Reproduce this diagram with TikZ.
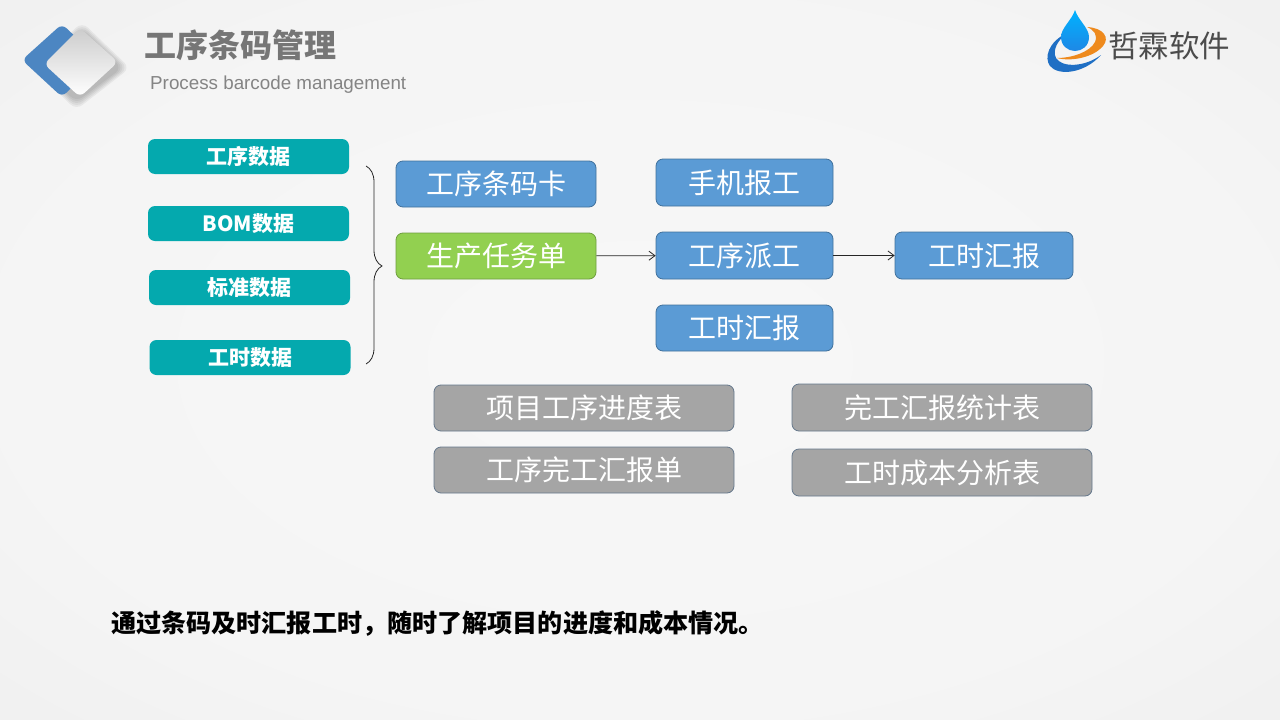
\documentclass[tikz,border=0pt]{standalone}
\usepackage{fontspec}
\setmainfont{Noto Sans CJK SC}
\newfontfamily\latinfont{Liberation Sans}
\usetikzlibrary{arrows.meta,decorations.pathreplacing}
\definecolor{cyanfill}{HTML}{04A9AE}
\definecolor{bluefill}{HTML}{5B9BD5}
\definecolor{blueedge}{HTML}{41719C}
\definecolor{greenfill}{HTML}{92D050}
\definecolor{greenedge}{HTML}{6F9E3F}
\definecolor{greyfill}{HTML}{A5A5A5}
\definecolor{greyedge}{HTML}{66788C}
\definecolor{titlegrey}{HTML}{767676}
\definecolor{iconblue}{HTML}{4C86C2}
\definecolor{dropblue}{HTML}{1E88E5}
\definecolor{swooshblue}{HTML}{1F6FC4}
\definecolor{swooshorange}{HTML}{EE8A1D}
\pgfdeclareradialshading{slideback}{\pgfpoint{0bp}{0bp}}{%
	color(0bp)=(white!97!black);
	color(25bp)=(white!96!black);
	color(50bp)=(white!92!black);
	color(71bp)=(white!83!black);
	color(100bp)=(white!83!black)}
\tikzset{
	box/.style={rounded corners=7pt,align=center,text=white,inner sep=0pt},
	cyanbox/.style={box,fill=cyanfill,minimum width=201pt,minimum height=35pt,font=\bfseries\fontsize{21pt}{21pt}\selectfont},
	bluebox/.style={box,draw=blueedge,fill=bluefill,line width=0.8pt,font=\fontsize{28pt}{28pt}\selectfont},
	greenbox/.style={bluebox,draw=greenedge,fill=greenfill,minimum width=200pt,minimum height=46pt},
	greybox/.style={bluebox,draw=greyedge,fill=greyfill,minimum width=300pt,minimum height=46pt},
	link/.style={black!85,line width=0.8pt,-{Straight Barb[length=6pt,width=9pt]}},
}
\begin{document}
\begin{tikzpicture}[x=1pt,y=-1pt]
\useasboundingbox (0,0) rectangle (1280,720);
\shade[shading=slideback] (0,0) rectangle (1280,720);
% corner icon
\foreach \d in {10,8,6,4,2}
	\fill[black,opacity=.05,rounded corners=8pt] (76,100+\d) -- (44-\d,68) -- (82,32-\d) -- (120+\d,68) -- cycle;
\fill[iconblue,rounded corners=6pt] (22,60) -- (62,24) -- (100,60) -- (62,97) -- cycle;
\shade[top color=white!80!black,bottom color=white,rounded corners=6pt] (44,64) -- (80,28) -- (118,62) -- (80,97) -- cycle;
% title
\path (144,45) node[anchor=west,inner sep=0pt,text=titlegrey,font=\bfseries\fontsize{32pt}{32pt}\selectfont] (title) {工序条码管理}
		(150,85) node[anchor=west,inner sep=0pt,text=titlegrey!90!white,font=\latinfont\fontsize{18.8pt}{18.8pt}\selectfont] (subtitle) {Process barcode management}
		(1108,46) node[anchor=west,text=black!70,inner sep=0pt,font=\fontsize{30.5pt}{30.5pt}\selectfont] (brand) {哲霖软件}
		;
% logo
\fill[swooshblue] (1067,33) .. controls (1048,42) and (1044,58) .. (1050,66) .. controls (1058,76) and (1084,74) .. (1101,55) .. controls (1085,67) and (1062,68) .. (1056,58) .. controls (1052,50) and (1058,40) .. (1067,33) -- cycle;
\fill[swooshorange] (1087,27) .. controls (1104,28) and (1110,38) .. (1103,46) .. controls (1094,57) and (1072,62) .. (1057,58) .. controls (1072,58) and (1090,52) .. (1095,42) .. controls (1098,35) and (1094,30) .. (1087,27) -- cycle;
\shade[top color=cyan!70!blue,bottom color=dropblue] (1075,10) .. controls (1078,20) and (1089,28) .. (1089,37) .. controls (1089,46) and (1082,51) .. (1075,51) .. controls (1068,51) and (1061,46) .. (1061,37) .. controls (1061,28) and (1072,20) .. (1075,10) -- cycle;
% boxes
\path (248.5,156.5) node[cyanbox] (procdata) {工序数据}
		(248.5,223.5) node[cyanbox] (bomdata) {BOM数据}
		(249.5,287.5) node[cyanbox] (stddata) {标准数据}
		(250,357.5) node[cyanbox] (hourdata) {工时数据}
		(496,184) node[bluebox,minimum width=200pt,minimum height=46pt] (card) {工序条码卡}
		(496,256) node[greenbox] (task) {生产任务单}
		(744.5,182.5) node[bluebox,minimum width=177pt,minimum height=47pt] (phone) {手机报工}
		(744.5,255.5) node[bluebox,minimum width=177pt,minimum height=47pt] (dispatch) {工序派工}
		(744.5,328) node[bluebox,minimum width=177pt,minimum height=46pt] (hours) {工时汇报}
		(984,255.5) node[bluebox,minimum width=178pt,minimum height=47pt] (report) {工时汇报}
		(584,408) node[greybox] (progress) {项目工序进度表}
		(584,470) node[greybox] (finish) {工序完工汇报单}
		(942,407.5) node[greybox,minimum height=47pt] (stat) {完工汇报统计表}
		(942,472.5) node[greybox,minimum height=47pt] (cost) {工时成本分析表}
		(111,623) node[anchor=west,inner sep=0pt,text=black,font=\bfseries\fontsize{25.1pt}{25.1pt}\selectfont] (note) {通过条码及时汇报工时，随时了解项目的进度和成本情况。}
		;
% brace
\coordinate (bracetop) at (366,166);
\coordinate (bracebot) at (366,364);
\draw[black!85,line width=0.8pt,decorate,decoration={brace,amplitude=16pt,aspect=0.505}] (bracetop) -- (bracebot);
% arrows
\draw[link] (node cs:name=task) -- (node cs:name=dispatch);
\draw[link] (node cs:name=dispatch) -- (node cs:name=report);
\end{tikzpicture}
\end{document}
